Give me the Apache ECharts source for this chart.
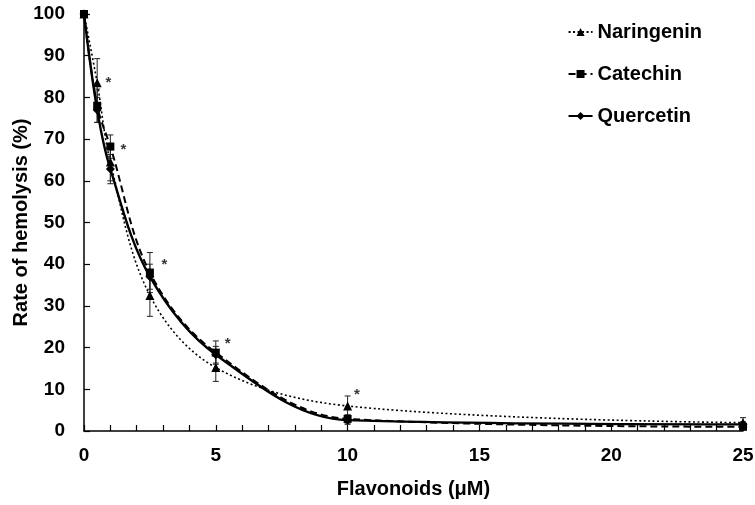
<!DOCTYPE html>
<html><head><meta charset="utf-8">
<script src="https://cdn.jsdelivr.net/npm/echarts@6/dist/echarts.min.js"></script>
<style>html,body{margin:0;padding:0;background:#fff}#c{width:755px;height:505px}</style>
</head><body><div id="c"></div>
<script>
var doses = [0, 0.5, 1, 2.5, 5, 10, 25];
var naringenin = [100, 83.5, 64.5, 32.5, 15.2, 6.0, 2.0];
var naringeninErr = [0, 5.8, 4.5, 5.0, 3.3, 2.4, 1.2];
var catechin = [100, 78.0, 68.2, 38.0, 18.8, 2.9, 1.0];
var catechinErr = [0, 4.0, 2.8, 4.8, 2.8, 1.0, 0.6];
var quercetin = [100, 77.0, 62.8, 37.0, 18.3, 2.6, 1.6];
var quercetinErr = [0, 3.0, 3.5, 3.0, 2.0, 1.0, 0.6];
var starX = [0.93, 1.5, 3.05, 5.45, 10.35, 25.05];
var starY = [83.5, 67.5, 39.8, 20.8, 8.6, 5.5];

var FONT = 'Liberation Sans';
function pairs(xs, ys){ return xs.map(function(x,i){ return [x, ys[i]]; }); }
function errData(ys, es){ return doses.map(function(x,i){ return [x, ys[i]-es[i], ys[i]+es[i]]; }).filter(function(d){return d[2]>d[1];}); }
function errSeries(ys, es){
  return {
    type: 'custom', silent: true, z: 1,
    data: errData(ys, es),
    renderItem: function(params, api){
      var lo = api.coord([api.value(0), api.value(1)]);
      var hi = api.coord([api.value(0), api.value(2)]);
      var w = 3;
      var st = {stroke:'#222', lineWidth:1};
      return {type:'group', children:[
        {type:'line', shape:{x1:lo[0],y1:lo[1],x2:hi[0],y2:hi[1]}, style:st},
        {type:'line', shape:{x1:lo[0]-w,y1:lo[1],x2:lo[0]+w,y2:lo[1]}, style:st},
        {type:'line', shape:{x1:hi[0]-w,y1:hi[1],x2:hi[0]+w,y2:hi[1]}, style:st}
      ]};
    }
  };
}
var chart = echarts.init(document.getElementById('c'));
chart.setOption({
  animation: false,
  backgroundColor: '#fff',
  grid: {left: 84, right: 12, top: 14, bottom: 74, containLabel: false, outerBoundsMode: 'none'},
  legend: {
    right: 48, top: 17, orient: 'vertical', itemGap: 22, itemWidth: 24, itemHeight: 10,
    textStyle: {fontFamily: FONT, fontWeight: 'bold', fontSize: 20, color: '#000'},
    data: ['Naringenin', 'Catechin', 'Quercetin']
  },
  xAxis: {
    type: 'value', min: 0, max: 25, interval: 5,
    name: 'Flavonoids (μM)', nameLocation: 'middle', nameGap: 48,
    nameTextStyle: {fontFamily: FONT, fontWeight: 'bold', fontSize: 20, color: '#000'},
    axisLine: {lineStyle: {color: '#000', width: 1.5}},
    axisTick: {inside: true, length: 6, lineStyle: {color: '#000', width: 1.2}},
    minorTick: {show: true, splitNumber: 5, length: 6, lineStyle: {color: '#000', width: 1.2}},
    splitLine: {show: false},
    axisLabel: {fontFamily: FONT, fontWeight: 'bold', fontSize: 19, color: '#000', margin: 15}
  },
  yAxis: {
    type: 'value', min: 0, max: 100, interval: 10,
    name: 'Rate of hemolysis (%)', nameLocation: 'middle', nameGap: 53, nameRotate: 90,
    nameMoveOverlap: false,
    nameTextStyle: {fontFamily: FONT, fontWeight: 'bold', fontSize: 20, color: '#000'},
    axisLine: {show: true, lineStyle: {color: '#000', width: 1.5}},
    axisTick: {show: true, inside: true, length: 6, lineStyle: {color: '#000', width: 1.2}},
    splitLine: {show: false},
    axisLabel: {fontFamily: FONT, fontWeight: 'bold', fontSize: 19, color: '#000', margin: 19}
  },
  series: [
    errSeries(naringenin, naringeninErr),
    errSeries(catechin, catechinErr),
    errSeries(quercetin, quercetinErr),
    {
      name: 'Naringenin', type: 'line', smooth: 0.35, z: 3,
      data: pairs(doses, naringenin),
      symbol: 'triangle', symbolSize: 9,
      itemStyle: {color: '#000'},
      lineStyle: {color: '#000', width: 1.6, type: [2, 2.5]}
    },
    {
      name: 'Catechin', type: 'line', smooth: 0.35, z: 3,
      data: pairs(doses, catechin),
      symbol: 'rect', symbolSize: 8,
      itemStyle: {color: '#000'},
      lineStyle: {color: '#000', width: 2, type: [7, 4]}
    },
    {
      name: 'Quercetin', type: 'line', smooth: 0.35, z: 3,
      data: pairs(doses, quercetin),
      symbol: 'diamond', symbolSize: 9,
      itemStyle: {color: '#000'},
      lineStyle: {color: '#000', width: 2.4, type: 'solid'}
    },
    {
      type: 'scatter', silent: true, symbolSize: 0, z: 4,
      data: pairs(starX, starY),
      label: {show: true, position: 'inside', formatter: '*', fontFamily: FONT, fontWeight: 'bold', fontSize: 15, color: '#000'}
    }
  ]
});
</script></body></html>
